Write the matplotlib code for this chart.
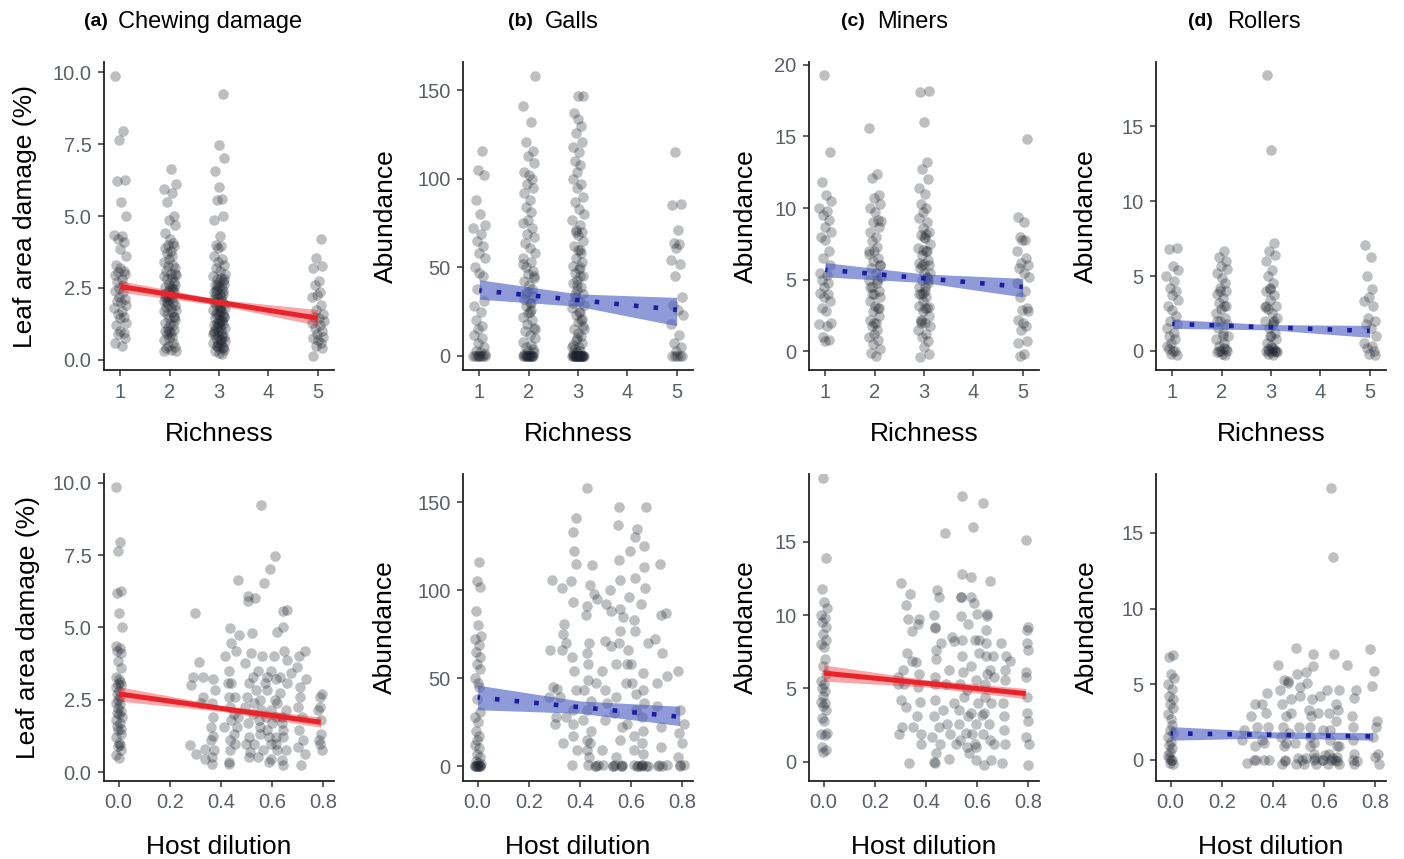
import matplotlib.pyplot as plt
import numpy as np

plt.rcParams['font.family'] = ['Liberation Sans', 'DejaVu Sans']

# ---- top row: responses grouped by tree species richness ----
richness_levels = [1, 2, 3, 5]

chew_rich = [
    [9.85, 7.95, 7.65, 6.25, 6.2, 5.5, 5.0, 4.35, 4.3, 4.2, 4.1, 3.85, 3.6, 3.3, 3.2, 3.1, 3.05, 3.0,
     2.95, 2.8, 2.7, 2.6, 2.5, 2.4, 2.35, 2.2, 2.1, 2.05, 2.0, 1.9, 1.8, 1.7, 1.6, 1.5, 1.45, 1.3,
     1.2, 1.0, 0.95, 0.9, 0.75, 0.6, 0.5],
    [6.65, 6.1, 5.95, 5.8, 5.5, 5.0, 4.85, 4.7, 4.4, 4.2, 4.05, 4.0, 3.95, 3.9, 3.8, 3.7, 3.6, 3.5,
     3.4, 3.3, 3.25, 3.2, 3.1, 3.0, 2.95, 2.9, 2.85, 2.8, 2.7, 2.65, 2.6, 2.55, 2.5, 2.45, 2.4, 2.35,
     2.3, 2.25, 2.2, 2.15, 2.1, 2.05, 2.0, 1.95, 1.9, 1.85, 1.8, 1.75, 1.7, 1.65, 1.6, 1.5, 1.45,
     1.4, 1.3, 1.25, 1.2, 1.1, 1.05, 1.0, 0.95, 0.9, 0.8, 0.75, 0.7, 0.6, 0.5, 0.45, 0.4, 0.35,
     0.3, 0.3, 2.5, 2.0, 1.5, 1.0, 3.0, 2.2],
    [9.25, 7.45, 7.0, 6.55, 6.0, 5.6, 5.55, 5.0, 4.85, 4.3, 4.0, 3.95, 3.9, 3.6, 3.5, 3.4, 3.3, 3.2,
     3.1, 3.0, 2.9, 2.85, 2.8, 2.75, 2.7, 2.65, 2.6, 2.55, 2.5, 2.45, 2.4, 2.35, 2.3, 2.25, 2.2,
     2.15, 2.1, 2.05, 2.0, 1.95, 1.9, 1.85, 1.8, 1.75, 1.7, 1.65, 1.6, 1.55, 1.5, 1.45, 1.4, 1.35,
     1.3, 1.25, 1.2, 1.15, 1.1, 1.05, 1.0, 0.95, 0.9, 0.85, 0.8, 0.75, 0.7, 0.65, 0.6, 0.55, 0.5,
     0.45, 0.4, 0.35, 0.3, 0.25, 0.2, 2.6, 2.3, 2.0, 1.8, 1.6, 1.4, 1.2, 1.0, 0.8, 0.6, 2.8, 2.4,
     1.7, 1.1, 0.9, 0.7, 0.5, 0.4, 1.3, 1.5],
    [4.2, 3.55, 3.25, 3.2, 2.75, 2.6, 2.35, 2.25, 2.2, 1.9, 1.75, 1.6, 1.5, 1.45, 1.35, 1.3, 1.2,
     1.1, 1.0, 0.9, 0.8, 0.75, 0.7, 0.6, 0.5, 0.4, 0.15],
]

galls_rich = [
    [116, 105, 102, 88, 80, 74, 72, 69, 65, 62, 58, 55, 50, 47, 45, 38, 31, 28, 25, 20, 17, 15, 12,
     10, 7, 5, 3, 2, 1, 0, 0, 0, 0, 0, 0, 0, 0],
    [158, 141, 132, 121, 116, 113, 109, 104, 102, 100, 97, 95, 92, 88, 84, 81, 77, 75, 72, 69, 67,
     64, 61, 58, 55, 53, 50, 48, 46, 44, 42, 40, 38, 36, 34, 32, 30, 28, 26, 24, 22, 20, 18, 16, 14,
     12, 10, 8, 6, 5, 4, 3, 2, 1, 0, 0, 0, 0, 0, 0, 0, 0, 0, 0, 0, 0, 45, 35, 25, 15, 52, 30],
    [147, 147, 137, 134, 130, 126, 121, 118, 115, 110, 108, 104, 100, 97, 95, 90, 87, 83, 80, 77,
     74, 71, 70, 68, 65, 62, 60, 58, 55, 53, 51, 49, 47, 45, 43, 41, 39, 37, 35, 33, 31, 29, 27, 25,
     23, 21, 19, 17, 15, 13, 11, 9, 7, 6, 5, 4, 3, 2, 1, 0, 0, 0, 0, 0, 0, 0, 0, 0, 0, 0, 0, 0, 0,
     0, 0, 0, 0, 0, 0, 50, 40, 30, 20, 10, 45, 35, 25, 15, 5, 60, 70],
    [115, 86, 85, 71, 64, 63, 61, 54, 52, 45, 33, 29, 26, 23, 18, 12, 7, 5, 3, 0, 0, 0, 0, 0],
]

miners_rich = [
    [19.3, 13.9, 11.8, 10.9, 10.5, 10.0, 9.8, 9.5, 9.2, 8.7, 8.3, 8.0, 7.8, 7.0, 6.5, 6.0, 5.5, 5.3,
     5.0, 4.8, 4.5, 4.1, 4.0, 3.8, 3.5, 3.0, 2.8, 2.0, 1.9, 1.8, 1.0, 0.8, 0.7],
    [15.6, 12.4, 12.1, 10.9, 10.7, 10.3, 10.0, 9.7, 9.2, 9.0, 8.7, 8.3, 8.0, 7.7, 7.3, 7.0, 6.8,
     6.5, 6.3, 6.0, 5.8, 5.5, 5.2, 5.0, 4.8, 4.5, 4.2, 4.0, 3.8, 3.5, 3.2, 3.0, 2.8, 2.5, 2.2, 2.0,
     1.8, 1.5, 1.2, 1.0, 0.8, 0.5, 0.2, -0.1, -0.3, 9.1, 7.0, 5.0, 4.0, 3.0, 2.0, 6.0, 4.5],
    [18.2, 18.1, 16.0, 13.2, 12.7, 12.0, 11.4, 11.0, 10.3, 10.0, 9.7, 9.3, 9.0, 8.6, 8.3, 8.1, 7.9,
     7.5, 7.2, 7.0, 6.7, 6.4, 6.1, 6.0, 5.8, 5.5, 5.2, 5.0, 4.8, 4.5, 4.2, 4.0, 3.8, 3.5, 3.2, 3.0,
     2.8, 2.5, 2.2, 2.0, 1.8, 1.5, 1.2, 1.0, 0.7, 0.3, -0.2, -0.4, 8.0, 7.0, 6.0, 5.0, 4.0, 3.0,
     2.0, 8.2, 7.1, 6.2, 5.1, 4.1, 3.1, 2.1, 4.5, 5.5],
    [14.8, 9.4, 9.0, 8.0, 7.8, 7.8, 7.0, 6.5, 6.2, 6.0, 5.8, 5.5, 5.2, 4.8, 4.2, 3.8, 3.0, 2.9,
     2.8, 2.2, 2.0, 1.8, 1.5, 0.7, 0.6, -0.2, -0.3],
]

rollers_rich = [
    [6.9, 6.8, 5.7, 5.4, 5.0, 4.7, 4.2, 4.0, 3.7, 3.4, 3.0, 2.7, 2.3, 2.0, 1.8, 1.5, 1.2, 1.0, 0.8,
     0.5, 0.3, 0.0, -0.2, -0.3, 0.1, 0.0],
    [6.7, 6.3, 6.0, 5.7, 5.5, 5.2, 4.9, 4.5, 4.2, 4.0, 3.8, 3.5, 3.2, 3.0, 2.8, 2.5, 2.2, 2.0, 1.8,
     1.5, 1.2, 1.0, 0.8, 0.5, 0.3, 0.1, 0.0, 0.0, -0.1, -0.2, -0.3, 4.0, 3.0, 2.0, 1.0, 0.0, 0.2],
    [18.4, 13.4, 7.2, 6.7, 6.4, 6.0, 5.4, 5.0, 4.5, 4.2, 4.0, 3.7, 3.4, 3.0, 2.8, 2.5, 2.2, 2.0,
     1.8, 1.5, 1.2, 1.0, 0.8, 0.5, 0.3, 0.1, 0.0, 0.0, 0.0, -0.1, -0.2, -0.3, 4.1, 3.0, 2.0, 1.0,
     0.0, 0.1, 0.2, -0.1, 2.9, 1.9],
    [7.1, 6.3, 5.0, 4.1, 3.6, 3.3, 3.0, 2.2, 2.0, 1.8, 1.5, 1.0, 0.5, 0.3, 0.2, 0.0, -0.2, -0.3],
]

# ---- bottom row: host dilution (monocultures sit at 0, values as richness 1) ----
chew_dil = [0.29, 0.29, 0.29, 0.32, 0.29, 0.30, 0.32, 0.33, 0.34, 0.32, 0.33, 0.37, 0.37, 0.37,
            0.36, 0.37, 0.36, 0.37, 0.36, 0.37, 0.38, 0.43, 0.44, 0.45, 0.42, 0.43, 0.42, 0.45,
            0.43, 0.46, 0.43, 0.45, 0.43, 0.42, 0.45, 0.43, 0.46, 0.43, 0.44, 0.43, 0.47, 0.46,
            0.47, 0.48, 0.50, 0.51, 0.51, 0.50, 0.52, 0.50, 0.51, 0.49, 0.53, 0.50, 0.51, 0.49,
            0.52, 0.51, 0.52, 0.56, 0.56, 0.54, 0.56, 0.55, 0.57, 0.54, 0.56, 0.55, 0.58, 0.54,
            0.56, 0.55, 0.58, 0.54, 0.56, 0.55, 0.58, 0.53, 0.57, 0.60, 0.61, 0.60, 0.60, 0.61,
            0.59, 0.61, 0.60, 0.61, 0.60, 0.59, 0.61, 0.60, 0.61, 0.60, 0.64, 0.65, 0.63, 0.64,
            0.65, 0.65, 0.63, 0.65, 0.64, 0.62, 0.65, 0.64, 0.63, 0.65, 0.64, 0.62, 0.65, 0.64,
            0.65, 0.67, 0.70, 0.72, 0.71, 0.73, 0.70, 0.72, 0.70, 0.72, 0.70, 0.72, 0.72, 0.72,
            0.70, 0.79, 0.79, 0.78, 0.80, 0.79, 0.79, 0.79, 0.79, 0.79]
chew_val = [5.5, 3.0, 3.3, 3.3, 0.92, 0.64, 3.8, 0.8, 0.46, 2.6, 2.37, 3.2, 2.83, 2.37,
            1.9, 1.56, 1.1, 0.52, 0.29, 1.24, 0.75, 4.97, 4.45, 4.2, 4.0, 3.5, 3.06, 3.06,
            2.6, 2.6, 2.25, 2.0, 1.8, 1.56, 1.33, 1.1, 0.98, 0.75, 0.35, 0.29, 1.9, 1.56,
            6.65, 4.74, 6.1, 5.9, 4.1, 3.76, 4.8, 3.06, 2.6, 2.25, 2.0, 1.68, 1.2, 0.98,
            0.7, 0.52, 3.3, 9.24, 6.53, 6.0, 4.0, 3.5, 3.06, 2.83, 2.5, 2.14, 1.9, 1.8,
            1.56, 1.33, 1.2, 0.98, 0.75, 0.52, 0.35, 2.37, 3.3, 7.0, 7.46, 4.0, 3.5, 3.2,
            2.83, 2.5, 2.14, 1.9, 1.68, 1.45, 1.2, 0.98, 0.75, 0.46, 5.55, 5.6, 4.85, 5.0,
            4.2, 3.87, 3.3, 3.06, 2.72, 2.37, 2.14, 1.9, 1.68, 1.45, 1.2, 0.98, 0.75, 0.4,
            0.23, 3.42, 3.64, 4.2, 4.0, 3.2, 2.95, 2.6, 2.25, 1.9, 1.45, 1.1, 0.64, 0.23,
            0.87, 2.7, 2.6, 2.25, 1.8, 1.33, 1.1, 0.75, 0.98, 2.14]

galls_dil = [0.29, 0.29, 0.30, 0.29, 0.30, 0.31, 0.29, 0.33, 0.33, 0.34, 0.33, 0.33, 0.35, 0.34,
             0.33, 0.37, 0.37, 0.38, 0.38, 0.38, 0.38, 0.37, 0.37, 0.38, 0.37, 0.38, 0.38, 0.37,
             0.39, 0.42, 0.43, 0.44, 0.43, 0.44, 0.45, 0.44, 0.42, 0.44, 0.43, 0.42, 0.44, 0.43,
             0.42, 0.44, 0.43, 0.42, 0.44, 0.43, 0.46, 0.45, 0.46, 0.47, 0.51, 0.50, 0.49, 0.51,
             0.52, 0.48, 0.50, 0.48, 0.50, 0.52, 0.51, 0.55, 0.55, 0.56, 0.55, 0.56, 0.55, 0.56,
             0.54, 0.57, 0.55, 0.53, 0.57, 0.55, 0.54, 0.53, 0.57, 0.57, 0.58, 0.60, 0.61, 0.60,
             0.61, 0.62, 0.62, 0.59, 0.61, 0.60, 0.62, 0.61, 0.59, 0.61, 0.60, 0.62, 0.64, 0.62,
             0.65, 0.65, 0.64, 0.66, 0.64, 0.66, 0.65, 0.64, 0.66, 0.64, 0.65, 0.64, 0.65, 0.65,
             0.71, 0.72, 0.73, 0.70, 0.72, 0.73, 0.71, 0.70, 0.72, 0.71, 0.71, 0.73, 0.79, 0.79,
             0.80, 0.79, 0.79, 0.79, 0.79, 0.81, 0.46, 0.53, 0.57, 0.62, 0.64, 0.65, 0.71, 0.79,
             0.45, 0.54, 0.56, 0.63, 0.66, 0.72]
galls_val = [66, 106, 44, 39, 24, 28, 45, 101, 81, 75, 66, 13, 70, 28,
             39, 93, 105, 115, 122, 133, 141, 62, 54, 24, 17, 9, 0.5, 32,
             43, 158, 91, 114, 86, 103, 98, 70, 64, 58, 49, 43, 37, 32,
             26, 20, 15, 9, 5, 0.5, 0.5, 13, 47, 95, 100, 71, 43, 92,
             88, 54, 26, 9, 0.5, 68, 36, 147, 137, 117, 106, 89, 77, 70,
             58, 47, 39, 30, 22, 15, 5, 0.5, 0.5, 85, 58, 122, 107, 96,
             83, 130, 135, 66, 58, 47, 41, 32, 24, 17, 9, 0.5, 0.5, 77,
             147, 125, 113, 101, 92, 70, 53, 43, 36, 28, 20, 13, 7, 0.5,
             115, 86, 87, 72, 64, 51, 47, 34, 22, 11, 0.5, 0.5, 54, 32,
             24, 19, 13, 5, 0.5, 0.5, 0, 0, 0, 0, 0, 0, 0, 0,
             0, 0, 0, 0, 0, 0]

miners_dil = [0.30, 0.30, 0.30, 0.30, 0.30, 0.30, 0.29, 0.33, 0.33, 0.33, 0.34, 0.33, 0.34, 0.33,
              0.33, 0.32, 0.37, 0.37, 0.37, 0.37, 0.37, 0.37, 0.37, 0.38, 0.37, 0.36, 0.43, 0.44,
              0.43, 0.44, 0.43, 0.45, 0.45, 0.43, 0.44, 0.43, 0.44, 0.45, 0.43, 0.45, 0.44, 0.44,
              0.43, 0.46, 0.46, 0.48, 0.50, 0.50, 0.49, 0.48, 0.50, 0.51, 0.49, 0.48, 0.55, 0.54,
              0.53, 0.54, 0.53, 0.55, 0.54, 0.55, 0.53, 0.55, 0.54, 0.56, 0.53, 0.55, 0.54, 0.56,
              0.56, 0.52, 0.58, 0.58, 0.57, 0.59, 0.59, 0.57, 0.59, 0.60, 0.58, 0.59, 0.57, 0.60,
              0.58, 0.59, 0.58, 0.60, 0.59, 0.60, 0.61, 0.63, 0.65, 0.63, 0.65, 0.63, 0.64, 0.63,
              0.65, 0.63, 0.64, 0.63, 0.65, 0.63, 0.64, 0.63, 0.65, 0.63, 0.65, 0.61, 0.67, 0.66,
              0.67, 0.69, 0.70, 0.71, 0.70, 0.72, 0.70, 0.71, 0.70, 0.71, 0.72, 0.80, 0.80, 0.79,
              0.80, 0.79, 0.80, 0.79, 0.80, 0.79, 0.80, 0.80, 0.80, 0.80]
miners_val = [12.2, 6.25, 5.3, 4.2, 1.9, 2.4, 5.8, 11.4, 10.7, 9.7, 8.9, 7.4, 6.9, 3.75,
              -0.1, 5.3, 9.7, 9.4, 6.8, 6.0, 5.1, 4.1, 3.1, 1.9, 1.25, 2.4, 10.0, 9.2,
              9.1, 7.6, 7.0, 11.7, 11.2, 5.8, 5.3, 4.2, 3.1, 2.4, 1.7, 1.25, 0.6, 0.0,
              -0.1, 8.1, 3.5, 15.6, 8.5, 8.2, 5.3, 2.6, 1.9, 1.25, 0.2, 6.25, 18.1, 12.8,
              11.2, 11.2, 9.9, 8.3, 7.2, 6.1, 5.3, 4.4, 3.5, 3.1, 2.6, 2.0, 1.5, 1.0,
              0.6, 4.0, 16.0, 12.6, 11.2, 10.8, 10.1, 9.4, 8.3, 7.4, 6.5, 5.6, 4.9, 4.0,
              3.3, 2.6, 1.9, 1.25, 1.0, 0.1, 3.2, 17.6, 12.3, 9.9, 10.1, 9.0, 8.1, 7.2,
              6.25, 6.0, 5.3, 4.4, 4.0, 3.3, 2.6, 1.9, 1.5, -0.2, 0.1, 8.3, 7.2, 5.8,
              1.25, -0.1, 8.1, 7.2, 6.25, 5.6, 4.0, 3.1, 2.2, 1.25, 6.9, 15.1, 9.2, 9.0,
              8.1, 7.6, 6.1, 5.8, 4.4, 3.3, 2.8, 1.7, 1.25, -0.2]

rollers_dil = [0.29, 0.29, 0.31, 0.29, 0.32, 0.33, 0.33, 0.34, 0.33, 0.36, 0.36, 0.37, 0.38, 0.38,
               0.37, 0.38, 0.36, 0.43, 0.44, 0.43, 0.45, 0.44, 0.45, 0.43, 0.44, 0.44, 0.45, 0.43,
               0.46, 0.46, 0.46, 0.49, 0.49, 0.51, 0.50, 0.48, 0.50, 0.49, 0.51, 0.49, 0.47, 0.55,
               0.53, 0.55, 0.54, 0.55, 0.53, 0.56, 0.54, 0.55, 0.54, 0.56, 0.55, 0.53, 0.57, 0.58,
               0.58, 0.59, 0.57, 0.59, 0.63, 0.63, 0.64, 0.62, 0.64, 0.62, 0.64, 0.63, 0.62, 0.64,
               0.63, 0.64, 0.62, 0.65, 0.66, 0.68, 0.66, 0.66, 0.72, 0.72, 0.70, 0.72, 0.71, 0.72,
               0.71, 0.72, 0.79, 0.79, 0.79, 0.80, 0.81, 0.79, 0.80, 0.81, 0.81, 0.60, 0.62, 0.63,
               0.64, 0.57, 0.53, 0.44, 0.50, 0.72, 0.61, 0.65]
rollers_val = [-0.2, 1.3, 2.9, 2.0, 0.0, 3.7, 2.2, 0.0, 0.9, 0.0, 3.7, 4.4, 3.1, 2.2,
               1.1, 0.0, 1.3, 6.3, 5.3, 4.6, 5.2, 3.7, 2.9, 2.2, 1.5, 0.9, 0.0, -0.3,
               5.1, 4.0, 1.1, 7.4, 5.7, 4.8, 4.2, 3.1, 2.2, 1.1, 0.0, -0.3, 1.8, 7.0,
               5.8, 6.2, 5.1, 4.0, 3.3, 2.9, 2.2, 1.5, 0.9, 0.4, 0.0, -0.3, -0.3, 4.2,
               3.1, 2.0, 1.1, 0.0, 18.0, 13.4, 7.0, 4.6, 3.7, 3.1, 2.6, 2.0, 1.3, 0.9,
               0.4, 0.0, -0.3, -0.3, 4.6, 6.3, 3.3, 0.9, 4.6, 4.1, 2.9, 2.2, 1.3, 0.4,
               0.0, -0.3, 7.3, 5.9, 4.9, 2.6, 2.2, 1.5, 0.4, 0.2, -0.3, 0.0, 0.0, 0.1,
               -0.1, 0.1, 0.1, -0.1, 0.1, -0.1, 0.3, 0.2]

# ---- model fits: x, fit, lower, upper ----
chew_rich_fit = ([1, 3, 5], [2.55, 2.0, 1.45], [2.35, 1.9, 1.2], [2.75, 2.1, 1.75])
galls_rich_fit = ([1, 3, 5], [37, 31.5, 26], [32, 28, 17], [43, 35, 33])
miners_rich_fit = ([1, 3, 5], [5.7, 5.1, 4.5], [5.2, 4.8, 3.8], [6.2, 5.4, 5.1])
rollers_rich_fit = ([1, 3, 5], [1.8, 1.57, 1.33], [1.5, 1.4, 0.9], [2.1, 1.75, 1.7])
chew_dil_fit = ([0, 0.4, 0.79], [2.7, 2.2, 1.72], [2.45, 2.1, 1.55], [2.95, 2.3, 1.9])
galls_dil_fit = ([0, 0.4, 0.79], [39, 33.5, 28], [32, 30, 23], [46, 37, 34])
miners_dil_fit = ([0, 0.4, 0.79], [6.05, 5.35, 4.65], [5.5, 5.1, 4.3], [6.6, 5.6, 5.0])
rollers_dil_fit = ([0, 0.4, 0.79], [1.75, 1.65, 1.55], [1.3, 1.45, 1.3], [2.2, 1.85, 1.8])

titles = [('(a)', 'Chewing damage'), ('(b)', 'Galls'), ('(c)', 'Miners'), ('(d)', 'Rollers')]
ylabels = ['Leaf area damage (%)', 'Abundance', 'Abundance', 'Abundance']

JITTER = [-0.11, 0.06, -0.03, 0.10, -0.07, 0.02, 0.12, -0.12, 0.04, -0.05, 0.08, -0.01,
          0.11, -0.09, 0.0, 0.07, -0.04, 0.09, -0.10, 0.03, -0.06, 0.05, -0.02]

POINT = '#1c232c'
TICK = '#5a6068'
RED = '#e8232a'
BLUE_BAND = '#4a5cc0'
BLUE_DOT = '#1c1c9c'


def jitter(n, scale, start=0):
    return np.array([JITTER[(start + i) % len(JITTER)] for i in range(n)]) * scale


def style_axes(ax, ylabel, label_x):
    for s in ['top', 'right']:
        ax.spines[s].set_visible(False)
    for s in ['left', 'bottom']:
        ax.spines[s].set_linewidth(1.3)
        ax.spines[s].set_color('#222222')
    ax.tick_params(length=4, width=1.1, color='#333333', labelsize=14.5, labelcolor=TICK, pad=5)
    ax.set_ylabel(ylabel, fontsize=19, va='center')
    ax.yaxis.set_label_coords(label_x, 0.5)


def draw_fit(ax, fit, sig):
    x, y, lo, hi = fit
    if sig:
        ax.fill_between(x, lo, hi, color=RED, alpha=0.4, lw=0, zorder=3)
        ax.plot(x, y, color=RED, lw=3.6, solid_capstyle='butt', zorder=4)
    else:
        ax.fill_between(x, lo, hi, color=BLUE_BAND, alpha=0.62, lw=0, zorder=3)
        ax.plot(x, y, color=BLUE_DOT, lw=3.3, linestyle=(0.5, (1, 3.3)),
                dash_capstyle='butt', zorder=4)


fig = plt.figure(figsize=(14.04, 8.59), dpi=100)
W, H = 1404.0, 859.0
col_left = [104, 463, 809, 1156]
ax_w = 230

rich_data = [chew_rich, galls_rich, miners_rich, rollers_rich]
rich_fits = [chew_rich_fit, galls_rich_fit, miners_rich_fit, rollers_rich_fit]
rich_sig = [True, False, False, False]
rich_ylim = [(-0.35, 10.35), (-8, 166), (-1.3, 20.2), (-1.28, 19.3)]
rich_yticks = [[0, 2.5, 5, 7.5, 10], [0, 50, 100, 150], [0, 5, 10, 15, 20], [0, 5, 10, 15]]
rich_label_x = [-0.345, -0.335, -0.275, -0.305]

dil_x = [chew_dil, galls_dil, miners_dil, rollers_dil]
dil_y = [chew_val, galls_val, miners_val, rollers_val]
dil_fits = [chew_dil_fit, galls_dil_fit, miners_dil_fit, rollers_dil_fit]
dil_sig = [True, False, True, False]
dil_ylim = [(-0.31, 10.3), (-8.5, 166), (-1.3, 19.6), (-1.4, 18.9)]
dil_yticks = [[0, 2.5, 5, 7.5, 10], [0, 50, 100, 150], [0, 5, 10, 15], [0, 5, 10, 15]]
dil_label_x = [-0.33, -0.34, -0.275, -0.30]

title_pos = [(108, 118), (533, 545), (865, 877), (1213, 1227)]

for i in range(4):
    left = col_left[i] / W
    # top row
    ax = fig.add_axes([left, 1 - 370 / H, ax_w / W, 308 / H])
    for g, (lev, vals) in enumerate(zip(richness_levels, rich_data[i])):
        xs = lev + jitter(len(vals), 1.0, start=g * 5 + i)
        ax.scatter(xs, vals, s=58, color=POINT, alpha=0.29, linewidths=0, zorder=2)
    draw_fit(ax, rich_fits[i], rich_sig[i])
    ax.set_xlim(0.67, 5.33)
    ax.set_ylim(*rich_ylim[i])
    ax.set_xticks([1, 2, 3, 4, 5])
    ax.set_yticks(rich_yticks[i])
    if i == 0:
        ax.set_yticklabels(['%.1f' % v for v in rich_yticks[i]])
    ax.set_xlabel('Richness', fontsize=19, labelpad=15)
    style_axes(ax, ylabels[i], rich_label_x[i])

    # bottom row
    ax = fig.add_axes([left, 1 - 781 / H, ax_w / W, 307 / H])
    mono = rich_data[i][0]
    ax.scatter(jitter(len(mono), 0.1, start=i), mono, s=58, color=POINT, alpha=0.29,
               linewidths=0, zorder=2)
    xs = np.array(dil_x[i]) + jitter(len(dil_x[i]), 0.08, start=3 + i)
    ax.scatter(xs, dil_y[i], s=58, color=POINT, alpha=0.29, linewidths=0, zorder=2)
    draw_fit(ax, dil_fits[i], dil_sig[i])
    ax.set_xlim(-0.057, 0.842)
    ax.set_ylim(*dil_ylim[i])
    ax.set_xticks([0, 0.2, 0.4, 0.6, 0.8])
    ax.set_xticklabels(['0.0', '0.2', '0.4', '0.6', '0.8'])
    ax.set_yticks(dil_yticks[i])
    if i == 0:
        ax.set_yticklabels(['%.1f' % v for v in dil_yticks[i]])
    ax.set_xlabel('Host dilution', fontsize=19, labelpad=16)
    style_axes(ax, ylabels[i], dil_label_x[i])

    # panel titles
    tag, name = titles[i]
    fig.text(title_pos[i][0] / W, 1 - 22 / H, tag, ha='right', va='center', fontsize=14,
             fontweight='bold')
    fig.text(title_pos[i][1] / W, 1 - 22 / H, name, ha='left', va='center', fontsize=17)

fig.savefig('out.png', dpi=100)
